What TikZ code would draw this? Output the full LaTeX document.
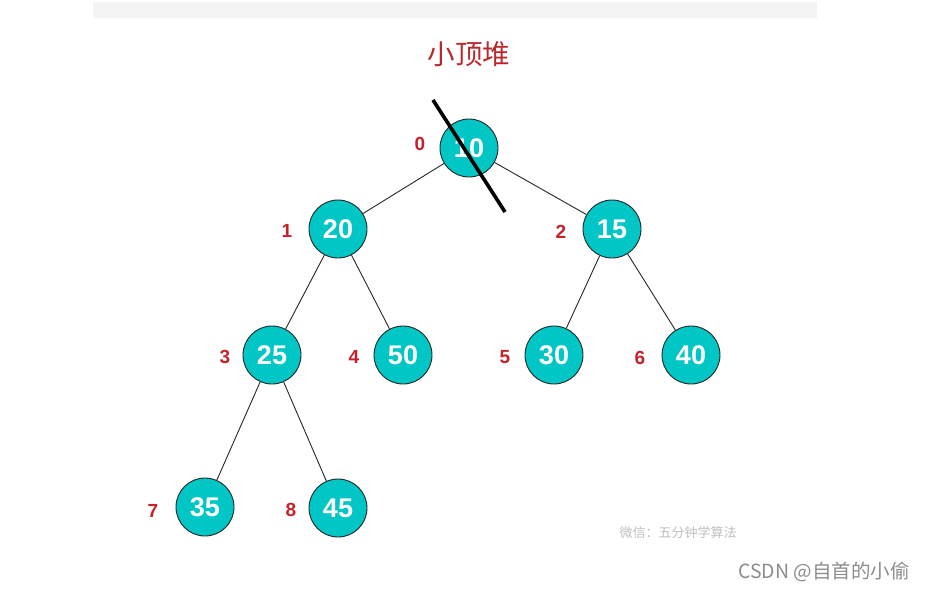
\documentclass[tikz,border=0pt]{standalone}
\usepackage{fontspec}
\setmainfont{Liberation Sans}
\newfontfamily\cjk{Noto Sans CJK SC}
\definecolor{heapteal}{RGB}{0,198,198}
\definecolor{idxred}{RGB}{200,32,40}
\definecolor{titlered}{RGB}{185,40,45}
\definecolor{barbg}{RGB}{244,244,244}
\begin{document}
\begin{tikzpicture}[x=1pt,y=-1pt,
  heapnode/.style={circle,draw=black!85,line width=0.9pt,fill=heapteal,minimum size=58pt,inner sep=0pt,
    text=white,font=\fontsize{27}{27}\selectfont\bfseries},
  idx/.style={text=idxred,font=\fontsize{19}{19}\selectfont\bfseries,inner sep=0pt},
  edge/.style={draw=black!85,line width=0.9pt}]
\useasboundingbox (0,0) rectangle (925,591);
\fill[barbg] (93,2) rectangle (817,18);
\node[text=titlered,font=\cjk\fontsize{27.5}{27.5}\selectfont] (title) at (469,54) {小顶堆};
% nodes
\node[heapnode] (n0) at (469,148) {10};
\node[heapnode] (n1) at (338,229) {20};
\node[heapnode] (n2) at (612,229) {15};
\node[heapnode] (n3) at (272,355) {25};
\node[heapnode] (n4) at (403,355) {50};
\node[heapnode] (n5) at (554,355) {30};
\node[heapnode] (n6) at (691,355) {40};
\node[heapnode] (n7) at (205,507) {35};
\node[heapnode] (n8) at (338,508) {45};
% edges
\draw[edge] (n0) -- (n1);
\draw[edge] (n0) -- (n2);
\draw[edge] (n1) -- (n3);
\draw[edge] (n1) -- (n4);
\draw[edge] (n2) -- (n5);
\draw[edge] (n2) -- (n6);
\draw[edge] (n3) -- (n7);
\draw[edge] (n3) -- (n8);
% index labels
\node[idx] (i0) at (420,144) {0};
\node[idx] (i1) at (287,231) {1};
\node[idx] (i2) at (561,232) {2};
\node[idx] (i3) at (225,357) {3};
\node[idx] (i4) at (354,357) {4};
\node[idx] (i5) at (505,357) {5};
\node[idx] (i6) at (640,358) {6};
\node[idx] (i7) at (153,511) {7};
\node[idx] (i8) at (291,510) {8};
% strike line
\coordinate (s1) at (433,100);
\coordinate (s2) at (505,212);
\draw[black,line width=3.6pt] (s1) -- (s2);
% watermarks
\node[text=black!25,font=\cjk\fontsize{13}{13}\selectfont,inner sep=0pt] (wm1) at (678,533) {微信：五分钟学算法};
\node[text=black!45,font=\cjk\fontsize{19.5}{19.5}\selectfont,inner sep=0pt,anchor=east] (wm2) at (910,572) {CSDN @自首的小偷};
\end{tikzpicture}
\end{document}
